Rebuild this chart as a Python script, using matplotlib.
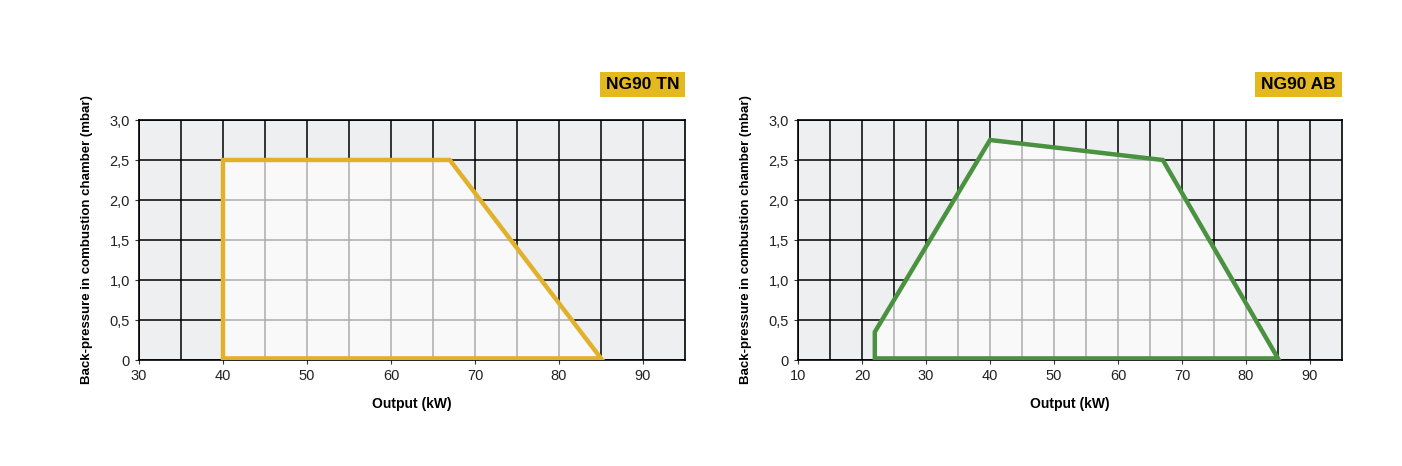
import numpy as np
import matplotlib.pyplot as plt
from matplotlib.patches import Polygon, Rectangle

plt.rcParams['font.family'] = ['Liberation Sans', 'DejaVu Sans']

# NG90 TN working range
tn_output = [40, 40, 67, 85]
tn_pressure = [0, 2.5, 2.5, 0]

# NG90 AB working range
ab_output = [22, 22, 40, 67, 85]
ab_pressure = [0, 0.35, 2.75, 2.5, 0]

y_ticks = [0, 0.5, 1.0, 1.5, 2.0, 2.5, 3.0]
y_labels = ['0', '0,5', '1,0', '1,5', '2,0', '2,5', '3,0']

W, H = 1402, 466

charts = [
    dict(name='NG90 TN', x=tn_output, y=tn_pressure, xmin=30, color='#E2B12B',
         pos=[139/W, 1-360/H, 546/W, 240/H], badge=(600, 72, 85, 25)),
    dict(name='NG90 AB', x=ab_output, y=ab_pressure, xmin=10, color='#4A9140',
         pos=[798/W, 1-360/H, 544/W, 240/H], badge=(1255, 72, 87, 25)),
]

fig = plt.figure(figsize=(W/100, H/100), dpi=100)

for c in charts:
    ax = fig.add_axes(c['pos'])
    ax.set_facecolor('#EDEFF1')
    ax.set_xlim(c['xmin'], 95)
    ax.set_ylim(0, 3.0)

    for gx in np.arange(c['xmin'], 95, 5):
        ax.axvline(gx, color='black', lw=1.1, zorder=1)
    for gy in y_ticks:
        ax.axhline(gy, color='black', lw=1.1, zorder=1)

    pts = np.column_stack([c['x'], c['y']])
    ax.add_patch(Polygon(pts, closed=True, facecolor='white', alpha=0.68,
                         edgecolor='none', zorder=2))
    ys = np.array(c['y'], dtype=float)
    ys = np.where(ys == 0, 0.02, ys)
    ax.add_patch(Polygon(np.column_stack([c['x'], ys]), closed=True, fill=False,
                         edgecolor=c['color'], lw=3.2, joinstyle='miter', zorder=3))

    ax.set_xticks(np.arange(c['xmin'], 95, 10))
    ax.set_yticks(y_ticks)
    ax.set_yticklabels(y_labels)
    ax.tick_params(labelsize=10.5, length=3, width=0.8, color='#333333', labelcolor='#222222')
    for s in ax.spines.values():
        s.set_color('black')
        s.set_linewidth(1.2)

    ax.set_xlabel('Output (kW)', fontsize=10, fontweight='bold', labelpad=10)
    ax.set_ylabel('Back-pressure in combustion chamber (mbar)', fontsize=9.5,
                  fontweight='bold', labelpad=12)

    bx, by, bw, bh = c['badge']
    fig.patches.append(Rectangle((bx/W, 1-(by+bh)/H), bw/W, bh/H, transform=fig.transFigure,
                                 facecolor='#E4B91F', edgecolor='none'))
    fig.text((bx + bw/2)/W, 1-(by + bh/2)/H, c['name'], ha='center', va='center',
             fontsize=12.5, fontweight='bold', color='black')

fig.savefig('out.png', dpi=100)
